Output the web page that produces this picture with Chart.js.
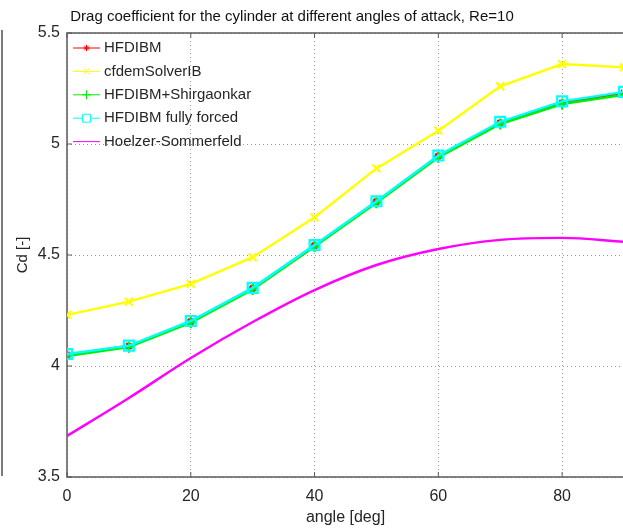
<!DOCTYPE html>
<html>
<head>
<meta charset="utf-8">
<script src="https://cdn.jsdelivr.net/npm/chart.js@4"></script>
<style>
  html, body { margin: 0; padding: 0; background: #fff; overflow: hidden; }
  #wrap { position: relative; width: 623px; height: 529px; overflow: hidden; }
  #frame { position: absolute; left: 0; top: 0; width: 640px; height: 529px; }
  #edge { position: absolute; left: 1px; top: 30px; width: 2px; height: 446px; background: #7a7a7a; }
</style>
</head>
<body>
<div id="wrap">
  <div id="frame"><canvas id="c" width="640" height="529"></canvas></div>
  <div id="edge"></div>
</div>
<script>
// Angle of attack [deg]
const angles = [0, 10, 20, 30, 40, 50, 60, 70, 80, 90];

// Drag coefficient per method
const hfdibm        = [4.050, 4.090, 4.200, 4.350, 4.542, 4.740, 4.945, 5.095, 5.185, 5.230];
const cfdemSolverIB = [4.230, 4.290, 4.370, 4.490, 4.670, 4.890, 5.060, 5.260, 5.360, 5.345];
const shirgaonkar   = [4.045, 4.085, 4.195, 4.345, 4.538, 4.735, 4.940, 5.090, 5.180, 5.222];
const fullyForced   = [4.054, 4.092, 4.203, 4.352, 4.545, 4.742, 4.948, 5.100, 5.192, 5.235];
const hoelzer       = [3.685, 3.856, 4.036, 4.198, 4.342, 4.455, 4.527, 4.568, 4.577, 4.559];

const seriesNames = ['HFDIBM', 'cfdemSolverIB', 'HFDIBM+Shirgaonkar', 'HFDIBM fully forced', 'Hoelzer-Sommerfeld'];

const xTicks = [0, 20, 40, 60, 80];
const yTicks = [3.5, 4, 4.5, 5, 5.5];

const titleText = 'Drag coefficient for the cylinder at different angles of attack, Re=10';

const pts = arr => arr.map((v, i) => ({ x: angles[i], y: v }));

const FONT = "'Liberation Sans', Arial, Helvetica, sans-serif";
const TXT = '#262626';

// Axes box, inward tick marks, title text
const boxPlugin = {
  id: 'box',
  beforeDatasetsDraw(chart) {
    const { ctx, chartArea: a, scales } = chart;
    ctx.save();
    ctx.strokeStyle = '#5a5a5a';
    ctx.lineWidth = 1.5;
    ctx.strokeRect(a.left, a.top, a.right - a.left, a.bottom - a.top);
    ctx.lineWidth = 1;
    ctx.beginPath();
    scales.x.ticks.forEach(t => {
      const px = scales.x.getPixelForValue(t.value);
      ctx.moveTo(px, a.bottom); ctx.lineTo(px, a.bottom - 5);
      ctx.moveTo(px, a.top); ctx.lineTo(px, a.top + 5);
    });
    scales.y.ticks.forEach(t => {
      const py = scales.y.getPixelForValue(t.value);
      ctx.moveTo(a.left, py); ctx.lineTo(a.left + 5, py);
    });
    ctx.stroke();
    ctx.restore();
  },
  afterDraw(chart) {
    const { ctx } = chart;
    ctx.save();
    ctx.font = '15px ' + FONT;
    ctx.fillStyle = '#111';
    ctx.textAlign = 'center';
    ctx.textBaseline = 'middle';
    ctx.fillText(titleText, 292, 16.5);
    ctx.restore();
  }
};

// Legend drawn inside the plotting area, top-left, no frame
const innerLegend = {
  id: 'innerLegend',
  afterDatasetsDraw(chart) {
    const { ctx, chartArea: a } = chart;
    ctx.save();
    ctx.font = '15px ' + FONT;
    ctx.textBaseline = 'middle';
    ctx.textAlign = 'left';
    chart.data.datasets.forEach((ds, i) => {
      const y = a.top + 15 + i * 23.4;
      const x0 = a.left + 6, x1 = a.left + 33;
      ctx.strokeStyle = ds.borderColor;
      ctx.lineWidth = 1;
      ctx.beginPath(); ctx.moveTo(x0, y); ctx.lineTo(x1, y); ctx.stroke();
      if (ds.pointRadius > 0) {
        ctx.strokeStyle = ds.borderColor;
        ctx.fillStyle = ds.pointStyle === 'rect' ? '#fff' : ds.borderColor;
        Chart.helpers.drawPoint(ctx, {
          pointStyle: ds.pointStyle,
          radius: ds.pointRadius * 0.8,
          rotation: 0,
          borderWidth: 1
        }, (x0 + x1) / 2, y);
      }
      ctx.fillStyle = TXT;
      ctx.fillText(ds.label, x1 + 4, y);
    });
    ctx.restore();
  }
};

const mk = (label, data, color, style, radius, order, extra) => Object.assign({
  label, data: pts(data),
  borderColor: color, backgroundColor: color,
  pointBorderColor: color,
  pointBackgroundColor: style === 'rect' ? 'rgba(255,255,255,0)' : color,
  pointStyle: style, pointRadius: radius, pointBorderWidth: 2.2, pointHoverRadius: radius,
  borderWidth: 2.4, tension: 0, order, fill: false
}, extra || {});

new Chart(document.getElementById('c'), {
  type: 'line',
  data: {
    datasets: [
      mk(seriesNames[0], hfdibm, '#ff0000', 'star', 4, 5),
      mk(seriesNames[1], cfdemSolverIB, '#ffff00', 'crossRot', 5.5, 4),
      mk(seriesNames[2], shirgaonkar, '#00ee00', 'cross', 5.5, 3),
      mk(seriesNames[3], fullyForced, '#00ffff', 'rect', 7, 2),
      mk(seriesNames[4], hoelzer, '#ff00ff', 'circle', 0, 1, { tension: 0.4, cubicInterpolationMode: 'monotone' })
    ]
  },
  plugins: [boxPlugin, innerLegend],
  options: {
    responsive: false,
    animation: false,
    events: [],
    layout: { padding: { left: 0, top: 33, right: 16, bottom: 0 } },
    plugins: { legend: { display: false }, title: { display: false }, tooltip: { enabled: false } },
    scales: {
      x: {
        type: 'linear', min: 0, max: 90,
        afterBuildTicks: s => { s.ticks = xTicks.map(v => ({ value: v })); },
        afterFit: s => { s.height = 52; },
        grid: { color: '#9a9a9a', lineWidth: 1, drawTicks: false },
        border: { display: false, dash: [1, 3] },
        ticks: { padding: 10, color: TXT, font: { family: FONT, size: 16 }, callback: v => String(v) },
        title: { display: true, text: 'angle [deg]', color: TXT, font: { family: FONT, size: 16, lineHeight: 1.2 }, padding: { top: 0, bottom: 2 } }
      },
      y: {
        type: 'linear', min: 3.5, max: 5.5,
        afterBuildTicks: s => { s.ticks = yTicks.map(v => ({ value: v })); },
        afterFit: s => { s.width = 67; },
        grid: { color: '#9a9a9a', lineWidth: 1, drawTicks: false },
        border: { display: false, dash: [1, 3] },
        ticks: { padding: 7, color: TXT, font: { family: FONT, size: 16 }, callback: v => String(v) },
        title: { display: true, text: 'Cd [-]', color: TXT, font: { family: FONT, size: 15, lineHeight: 1.2 }, padding: { top: 14, bottom: 0 } }
      }
    }
  }
});
</script>
</body>
</html>
